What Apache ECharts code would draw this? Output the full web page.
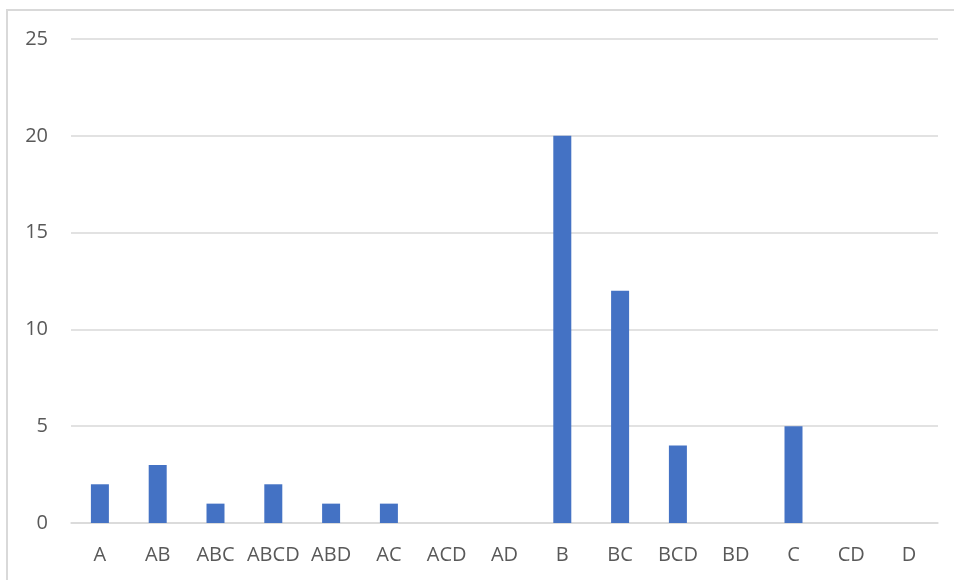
<!DOCTYPE html>
<html>
<head>
<meta charset="utf-8">
<script src="https://cdn.jsdelivr.net/npm/echarts@6/dist/echarts.min.js"></script>
<style>
  html, body { margin: 0; padding: 0; background: #ffffff; }
  #chart { width: 954px; height: 580px; }
</style>
</head>
<body>
<div id="chart"></div>
<script>
// Category labels along the x axis
const categories = ['A', 'AB', 'ABC', 'ABCD', 'ABD', 'AC', 'ACD', 'AD', 'B', 'BC', 'BCD', 'BD', 'C', 'CD', 'D'];
// Count for each category
const counts = [2, 3, 1, 2, 1, 1, 0, 0, 20, 12, 4, 0, 5, 0, 0];
// Value axis range
const yMin = 0;
const yMax = 25;
const yStep = 5;

const chart = echarts.init(document.getElementById('chart'), null, { renderer: 'canvas' });

const textColor = '#595959';
const fontFamily = '"Open Sans", "Noto Sans", sans-serif';

chart.setOption({
  backgroundColor: '#ffffff',
  animation: false,
  graphic: [{
    type: 'rect',
    shape: { x: 7, y: 10, width: 980, height: 600 },
    style: { fill: 'none', stroke: '#d9d9d9', lineWidth: 2 },
    silent: true
  }],
  grid: { left: 71, right: 16, top: 39, bottom: 57, containLabel: false },
  xAxis: {
    type: 'category',
    data: categories,
    axisLine: { show: true, lineStyle: { color: '#d9d9d9', width: 1.5 } },
    axisTick: { show: false },
    axisLabel: { color: textColor, fontSize: 20, fontFamily: fontFamily, margin: 22, interval: 0 },
    splitLine: { show: false }
  },
  yAxis: {
    type: 'value',
    min: yMin,
    max: yMax,
    interval: yStep,
    axisLine: { show: false },
    axisTick: { show: false },
    axisLabel: { color: textColor, fontSize: 20, fontFamily: fontFamily, margin: 23 },
    splitLine: { lineStyle: { color: '#d9d9d9', width: 1.5 } }
  },
  series: [{
    type: 'bar',
    data: counts,
    barWidth: 18,
    itemStyle: { color: '#4472c4' }
  }]
});
</script>
</body>
</html>
